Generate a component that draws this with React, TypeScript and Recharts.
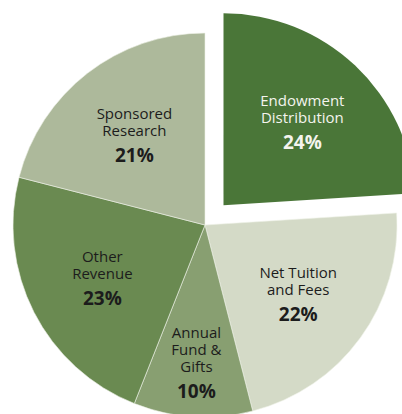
import React from "react";
import { PieChart, Pie, Cell } from "recharts";

const categories = [
  "Endowment Distribution",
  "Net Tuition and Fees",
  "Annual Fund & Gifts",
  "Other Revenue",
  "Sponsored Research",
];
const labelLines = [
  ["Endowment", "Distribution"],
  ["Net Tuition", "and Fees"],
  ["Annual", "Fund &", "Gifts"],
  ["Other", "Revenue"],
  ["Sponsored", "Research"],
];
const shares = [24, 22, 10, 23, 21];
const colors = ["#4a7638", "#d4dac7", "#889f71", "#6a8a51", "#adb99b"];
const textColors = ["#f4f4ee", "#1c1c1c", "#1c1c1c", "#1c1c1c", "#1c1c1c"];

const data = categories.map((name, i) => ({ name, value: shares[i] }));

const CX = 205;
const CY = 225;
const R = 192;
const EXPLODE = 27;
const RAD = Math.PI / 180;

// offset of the pulled-out first slice, along its middle angle
const explodeMid = 90 - (shares[0] / shares.reduce((a, b) => a + b, 0)) * 180;
const dx = EXPLODE * Math.cos(explodeMid * RAD);
const dy = -EXPLODE * Math.sin(explodeMid * RAD);

const renderLabel = (props: any) => {
  const { midAngle, index, cx, cy } = props;
  const lines = labelLines[index];
  const r = lines.length > 2 ? R * 0.71 : R * 0.6;
  const x = cx + r * Math.cos(-midAngle * RAD);
  const y = cy + r * Math.sin(-midAngle * RAD);
  const lh = 17;
  const top = y - ((lines.length - 1) * lh + 25) / 2;
  const fill = textColors[index];
  return (
    <g key={`lbl-${index}`}>
      {lines.map((l, j) => (
        <text
          key={j}
          x={x}
          y={top + j * lh}
          textAnchor="middle"
          dominantBaseline="central"
          fontFamily="'Open Sans', sans-serif"
          fontSize={15}
          fill={fill}
        >
          {l}
        </text>
      ))}
      <text
        x={x}
        y={top + (lines.length - 1) * lh + 25}
        textAnchor="middle"
        dominantBaseline="central"
        fontFamily="'Open Sans', sans-serif"
        fontSize={19}
        fontWeight={700}
        fill={fill}
      >
        {`${shares[index]}%`}
      </text>
    </g>
  );
};

const renderExplodedLabel = (props: any) =>
  props.index === 0 ? renderLabel(props) : null;

const renderBaseLabel = (props: any) =>
  props.index === 0 ? null : renderLabel(props);

export default function App() {
  return (
    <div style={{ position: "absolute", left: 0, top: 0, width: 402, height: 414, background: "#fff" }}>
      <PieChart width={402} height={414} margin={{ top: 0, right: 0, bottom: 0, left: 0 }}>
        <Pie
          data={data}
          dataKey="value"
          nameKey="name"
          cx={CX}
          cy={CY}
          outerRadius={R}
          startAngle={90}
          endAngle={-270}
          stroke="#eef1e8"
          strokeWidth={0.6}
          label={renderBaseLabel}
          labelLine={false}
          isAnimationActive={false}
        >
          {data.map((d, i) => (
            <Cell key={d.name} fill={i === 0 ? "transparent" : colors[i]} stroke={i === 0 ? "none" : "#eef1e8"} />
          ))}
        </Pie>
        <Pie
          data={data}
          dataKey="value"
          nameKey="name"
          cx={CX + dx}
          cy={CY + dy}
          outerRadius={R}
          startAngle={90}
          endAngle={-270}
          stroke="none"
          label={renderExplodedLabel}
          labelLine={false}
          isAnimationActive={false}
        >
          {data.map((d, i) => (
            <Cell key={d.name} fill={i === 0 ? colors[0] : "transparent"} />
          ))}
        </Pie>
      </PieChart>
    </div>
  );
}
